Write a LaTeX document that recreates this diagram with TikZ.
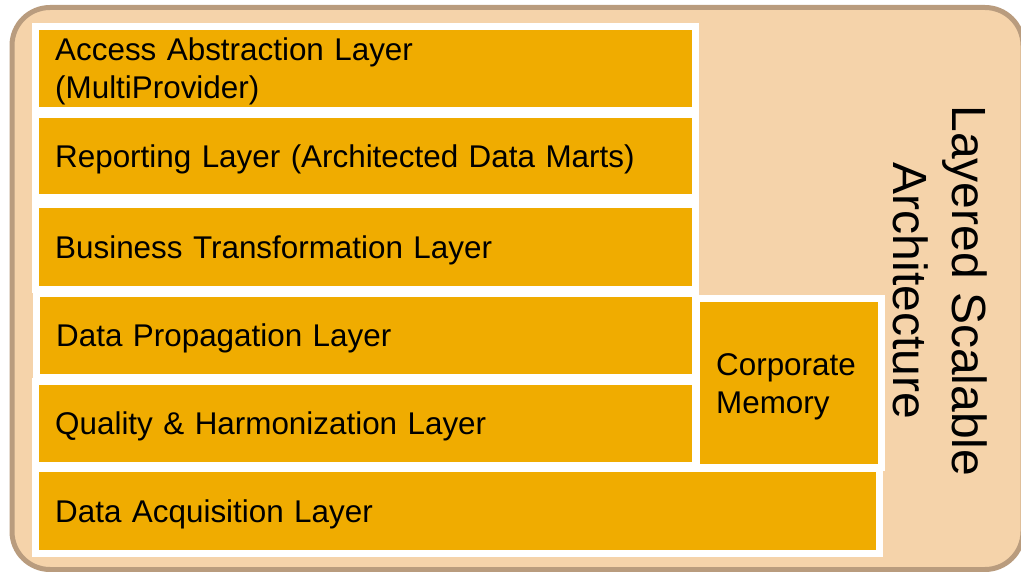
\documentclass[tikz,border=0pt]{standalone}
\usepackage{fontspec}
\setmainfont{Liberation Sans}
\definecolor{layerfill}{RGB}{240,172,0}
\definecolor{framefill}{RGB}{245,211,170}
\definecolor{frameedge}{RGB}{185,156,126}
\tikzset{
  layerbox/.style={
    anchor=north west, fill=layerfill, inner xsep=16pt, inner ysep=0pt,
    preaction={draw=white, line width=14pt},
    align=left, font=\fontsize{31.4}{38}\selectfont,
    text height=22.5pt, text depth=0pt
  },
  twoline/.style={text depth=38pt}
}
\begin{document}
\begin{tikzpicture}[x=1pt,y=-1pt]
  \useasboundingbox (0,0) rectangle (1021,572);
  % outer frame
  \draw[frameedge, line width=5pt, fill=framefill, rounded corners=38pt]
    (12,7.5) rectangle (1023,569.5);
  % stacked layers
  \node[layerbox, twoline, text width=621pt, minimum height=77pt] (acc) at (39,30)
    {Access Abstraction Layer\\(MultiProvider)};
  \node[layerbox, text width=621pt, minimum height=76pt] (rep) at (39,118)
    {Reporting Layer (Architected Data Marts)};
  \node[layerbox, text width=621pt, minimum height=78pt] (bus) at (39,208)
    {Business Transformation Layer};
  \node[layerbox, text width=620pt, minimum height=77pt] (prop) at (40,297)
    {Data Propagation Layer};
  \node[layerbox, text width=621pt, minimum height=77pt] (qual) at (39,385)
    {Quality \& Harmonization Layer};
  \node[layerbox, twoline, text width=146pt, minimum height=162pt] (corp) at (700,302)
    {Corporate\\Memory};
  \node[layerbox, text width=805pt, minimum height=78pt] (acq) at (39,472)
    {Data Acquisition Layer};
  % title
  \node[rotate=-90, align=center, inner sep=0pt, font=\fontsize{48}{59}\selectfont]
    (title) at (940,291) {Layered Scalable\\Architecture};
\end{tikzpicture}
\end{document}
